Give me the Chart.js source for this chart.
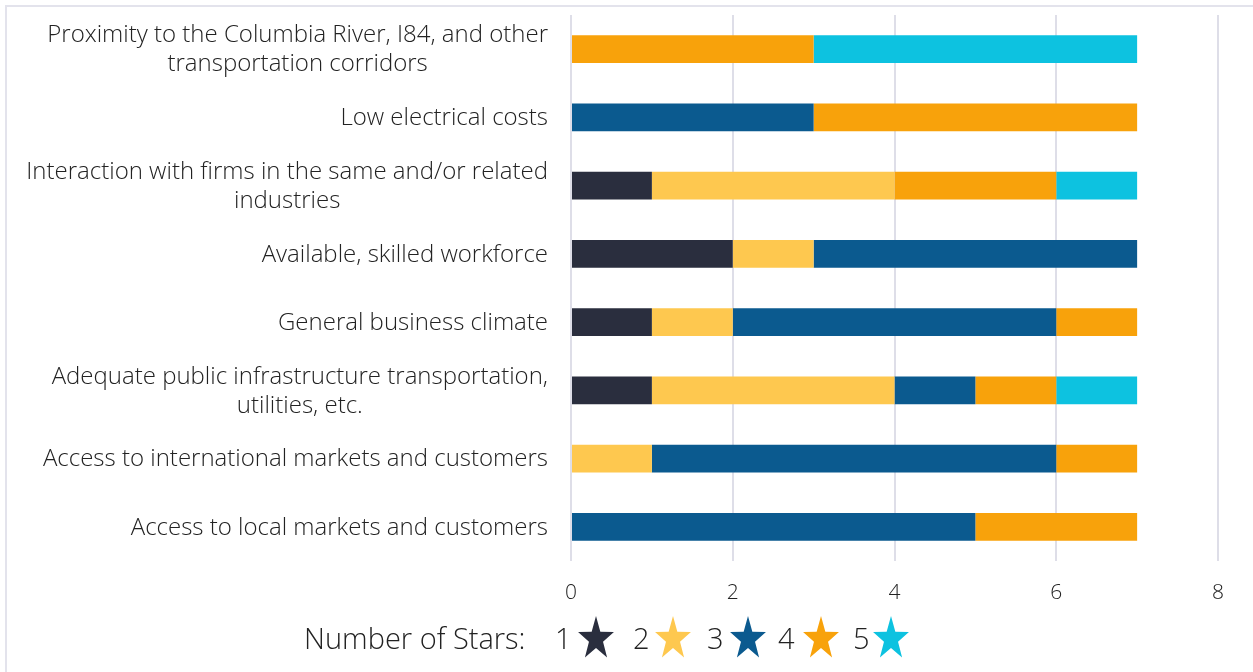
<!DOCTYPE html>
<html>
<head>
<meta charset="utf-8">
<script src="https://cdn.jsdelivr.net/npm/chart.js@4/dist/chart.umd.min.js"></script>
<style>
  html, body { margin: 0; padding: 0; background: #fff; }
  #wrap { position: relative; width: 1253px; height: 672px; overflow: hidden; }
  #frame { position: absolute; left: 5px; top: 5px; width: 1260px; height: 700px; border-left: 2px solid #e3e3ec; border-top: 2px solid #e3e3ec; box-sizing: border-box; }
  canvas { position: absolute; left: 0; top: 0; }
  #legend { position: absolute; left: 0; top: 616px; width: 1253px; height: 44px; font-family: "Open Sans", sans-serif; font-weight: 300; font-size: 29px; color: #222; white-space: nowrap; }
  #legend span, #legend svg { position: absolute; top: 0; line-height: 44px; }
</style>
</head>
<body>
<div id="wrap">
  <div id="frame"></div>
  <canvas id="c" width="1253" height="672"></canvas>
  <div id="legend"></div>
</div>
<script>
const categories = [
  ["Proximity to the Columbia River, I84, and other", "transportation corridors"],
  ["Low electrical costs"],
  ["Interaction with firms in the same and/or related", "industries"],
  ["Available, skilled workforce"],
  ["General business climate"],
  ["Adequate public infrastructure transportation,", "utilities, etc."],
  ["Access to international markets and customers"],
  ["Access to local markets and customers"]
];
const seriesNames = ["1", "2", "3", "4", "5"];
const stars1 = [0, 0, 1, 2, 1, 1, 0, 0];
const stars2 = [0, 0, 3, 1, 1, 3, 1, 0];
const stars3 = [0, 3, 0, 4, 4, 1, 5, 5];
const stars4 = [3, 4, 2, 0, 1, 1, 1, 2];
const stars5 = [4, 0, 1, 0, 0, 1, 0, 0];
const colors = ["#2a2e3e", "#fec84f", "#0b5a8f", "#f8a20b", "#0dc2e0"];
const xTicks = [0, 2, 4, 6, 8];
const legendTitle = "Number of Stars:";

const allSeries = [stars1, stars2, stars3, stars4, stars5];

const labelPlugin = {
  id: 'catLabels',
  afterDraw(chart) {
    const ctx = chart.ctx;
    const y = chart.scales.y;
    const rightEdge = chart.chartArea.left - 23;
    ctx.save();
    ctx.font = '300 24px "Open Sans", sans-serif';
    ctx.fillStyle = '#222';
    ctx.textBaseline = 'middle';
    ctx.textAlign = 'center';
    const lh = 29;
    categories.forEach((lines, i) => {
      const cy = y.getPixelForValue(i) + 1;
      let w = 0;
      lines.forEach(l => { w = Math.max(w, ctx.measureText(l).width); });
      const cx = rightEdge - w / 2;
      const y0 = cy - (lines.length - 1) * lh / 2;
      lines.forEach((l, k) => ctx.fillText(l, cx, y0 + k * lh));
    });
    ctx.restore();
  }
};

new Chart(document.getElementById('c'), {
  type: 'bar',
  data: {
    labels: categories.map(c => c.join(' ')),
    datasets: allSeries.map((d, i) => ({
      label: seriesNames[i],
      data: d,
      backgroundColor: colors[i],
      borderWidth: 0,
      categoryPercentage: 1,
      barPercentage: 0.41
    }))
  },
  options: {
    indexAxis: 'y',
    responsive: false,
    animation: false,
    layout: { padding: { left: 0, right: 35, top: 15, bottom: 0 } },
    plugins: { legend: { display: false }, tooltip: { enabled: false } },
    scales: {
      x: {
        stacked: true,
        min: 0, max: 8,
        afterBuildTicks: s => { s.ticks = xTicks.map(v => ({ value: v })); },
        afterFit: s => { s.height = 111; },
        grid: { color: '#dedee8', lineWidth: 2, drawTicks: false },
        border: { display: false },
        ticks: { padding: 19, color: '#222', font: { family: 'Open Sans', size: 21, weight: 300 } }
      },
      y: {
        stacked: true,
        afterFit: s => { s.width = 571; },
        grid: { display: false },
        border: { display: false },
        ticks: { display: false }
      }
    }
  },
  plugins: [labelPlugin]
});

function starSvg(color, left) {
  const pts = [];
  const cx = 18, cy = 23, R = 23, r = 9, sx = 0.82;
  for (let k = 0; k < 10; k++) {
    const a = -Math.PI / 2 + k * Math.PI / 5;
    const rad = k % 2 === 0 ? R : r;
    pts.push((cx + sx * rad * Math.cos(a)).toFixed(2) + ',' + (cy + rad * Math.sin(a)).toFixed(2));
  }
  return '<svg style="left:' + left + 'px" width="36" height="44" viewBox="0 0 36 44"><polygon points="' + pts.join(' ') + '" fill="' + color + '"/></svg>';
}
const numLeft = [555, 633, 707, 778, 853];
const starLeft = [578, 655, 730, 803, 873];
const leg = document.getElementById('legend');
let html = '<span style="left:304px">' + legendTitle + '</span>';
seriesNames.forEach((n, i) => {
  html += '<span style="left:' + numLeft[i] + 'px">' + n + '</span>' + starSvg(colors[i], starLeft[i]);
});
leg.innerHTML = html;
</script>
</body>
</html>
